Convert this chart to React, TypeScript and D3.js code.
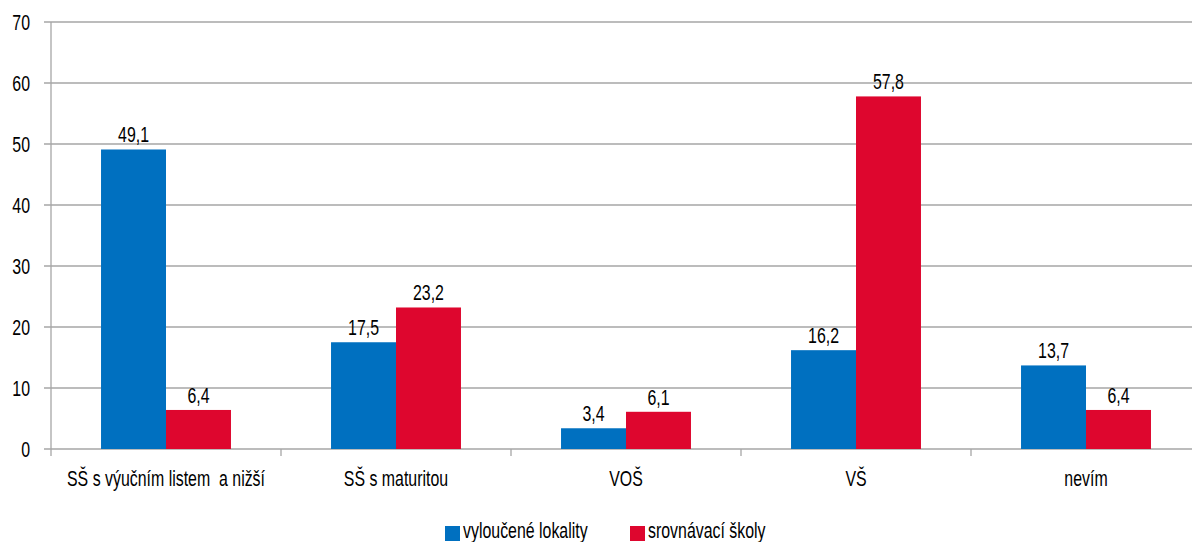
import { useEffect, type ReactNode } from "react"
import { scaleBand, scaleLinear } from "d3"

const categories = ["SŠ s výučním listem  a nižší", "SŠ s maturitou", "VOŠ", "VŠ", "nevím"]
const seriesNames = ["vyloučené lokality", "srovnávací školy"]
const vylouceneLokality = [49.1, 17.5, 3.4, 16.2, 13.7]
const srovnavaciSkoly = [6.4, 23.2, 6.1, 57.8, 6.4]
const yTicks = [0, 10, 20, 30, 40, 50, 60, 70]

const COLORS = ["#0070C0", "#DE062E"]
const FONT = "'Liberation Sans', Arial, sans-serif"
const FS = 21.5
const SX = 0.74 // horizontal squeeze to mimic a condensed face

const W = 1192
const H = 542
const margin = { top: 22, right: -9, bottom: 93, left: 51 }

// condensed text: squeezed horizontally around its anchor point
function CText({
  x,
  y,
  anchor = "start",
  children,
}: {
  x: number
  y: number
  anchor?: "start" | "middle" | "end"
  children: ReactNode
}) {
  return (
    <text
      transform={`translate(${x},${y}) scale(${SX},1)`}
      textAnchor={anchor}
      fontSize={FS}
      fill="#000"
      style={{ whiteSpace: "pre" }}
    >
      {children}
    </text>
  )
}

export default function App() {
  useEffect(() => {
    document.body.style.margin = "0"
  }, [])

  const innerW = W - margin.left - margin.right
  const innerH = H - margin.top - margin.bottom

  const x = scaleBand().domain(categories).range([0, innerW])
  const x1 = scaleBand().domain(seriesNames).range([0, x.bandwidth()]).paddingInner(0).paddingOuter(0.77)
  const y = scaleLinear().domain([0, 70]).range([innerH, 0])

  const series = [vylouceneLokality, srovnavaciSkoly]
  const fmt = (v: number) => v.toFixed(1).replace(".", ",")

  return (
    <svg width={W} height={H} style={{ display: "block", fontFamily: FONT }}>
      <g transform={`translate(${margin.left},${margin.top})`}>
        {/* grid + y ticks */}
        {yTicks.map((t) => (
          <g key={t} transform={`translate(0,${y(t)})`}>
            <line x1={-7} x2={innerW} stroke="#A6A6A6" strokeWidth={1.3} />
            <CText x={-21} y={7.5} anchor="end">
              {t}
            </CText>
          </g>
        ))}
        <line x1={0} x2={0} y1={0} y2={innerH + 7} stroke="#A6A6A6" strokeWidth={1.3} />

        {/* category separators */}
        {categories.map((c) => (
          <line
            key={c}
            x1={(x(c) ?? 0) + x.bandwidth()}
            x2={(x(c) ?? 0) + x.bandwidth()}
            y1={innerH}
            y2={innerH + 7}
            stroke="#A6A6A6"
            strokeWidth={1.3}
          />
        ))}

        {/* bars */}
        {categories.map((c, i) => (
          <g key={c} transform={`translate(${x(c)},0)`}>
            {series.map((s, j) => {
              const bx = x1(seriesNames[j]) ?? 0
              return (
                <g key={j}>
                  <rect
                    x={bx}
                    y={y(s[i])}
                    width={x1.bandwidth()}
                    height={innerH - y(s[i])}
                    fill={COLORS[j]}
                  />
                  <CText x={bx + x1.bandwidth() / 2} y={y(s[i]) - 7} anchor="middle">
                    {fmt(s[i])}
                  </CText>
                </g>
              )
            })}
            <CText x={x.bandwidth() / 2} y={innerH + 37} anchor="middle">
              {c}
            </CText>
          </g>
        ))}
      </g>

      {/* legend */}
      {seriesNames.map((n, j) => {
        const lx = j === 0 ? 445 : 630
        return (
          <g key={n} transform={`translate(${lx},526)`}>
            <rect x={0} y={0} width={15} height={15} fill={COLORS[j]} />
            <CText x={18} y={12}>
              {n}
            </CText>
          </g>
        )
      })}
    </svg>
  )
}
